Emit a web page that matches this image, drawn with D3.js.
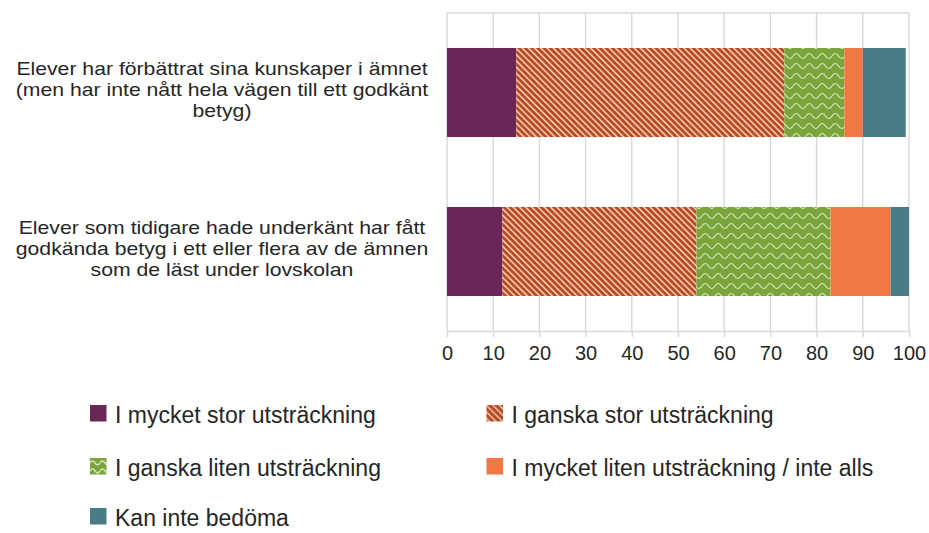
<!DOCTYPE html>
<html><head><meta charset="utf-8">
<script src="https://cdn.jsdelivr.net/npm/d3@7"></script>
<style>body{margin:0;background:#fff}svg{display:block}text{font-family:"Liberation Sans",Arial,sans-serif;fill:#262626}</style>
</head><body>
<script>
const categories = [
  ["Elever har förbättrat sina kunskaper i ämnet","(men har inte nått hela vägen till ett godkänt","betyg)"],
  ["Elever som tidigare hade underkänt har fått","godkända betyg i ett eller flera av de ämnen","som de läst under lovskolan"]
];
const seriesNames = ["I mycket stor utsträckning","I ganska stor utsträckning","I ganska liten utsträckning","I mycket liten utsträckning / inte alls","Kan inte bedöma"];
const mycketStor = [15, 12];
const ganskaStor = [58, 42];
const ganskaLiten = [13, 29];
const mycketLiten = [4, 13];
const kanInte = [9.3, 4];
const xTicks = [0,10,20,30,40,50,60,70,80,90,100];
const colors = ["#6A2657","#B84A1F","#7BA43A","#EF7846","#4A7C88"];

const W=929,H=533;
const svg=d3.select("body").append("svg").attr("width",W).attr("height",H);
const defs=svg.append("defs");
function stripe(id,s,w){
  const p=defs.append("pattern").attr("id",id).attr("patternUnits","userSpaceOnUse")
    .attr("width",s).attr("height",s).attr("patternTransform","rotate(-45)");
  p.append("rect").attr("width",s).attr("height",s).attr("fill",colors[1]);
  p.append("rect").attr("width",w).attr("height",s).attr("fill","#F3CDB8");
}
stripe("pat1",4.4,1.6);
stripe("pat1L",4.6,1.4);
function wave(id,w,h,sw){
  const p=defs.append("pattern").attr("id",id).attr("patternUnits","userSpaceOnUse").attr("width",w).attr("height",h);
  p.append("rect").attr("width",w).attr("height",h).attr("fill",colors[2]);
  p.append("path").attr("d",`M0,${h*0.6} Q${w/4},${h*0.1} ${w/2},${h*0.6} T${w},${h*0.6}`).attr("fill","none").attr("stroke","#DDEBCB").attr("stroke-width",sw);
}
wave("pat2",13,10,1.2);
wave("pat2L",10,8,1.3);
const fills=[colors[0],"url(#pat1)","url(#pat2)",colors[3],colors[4]];
const legendFills=[colors[0],"url(#pat1L)","url(#pat2L)",colors[3],colors[4]];

const x=d3.scaleLinear().domain([0,100]).range([447,909]);
const y=d3.scaleBand().domain(d3.range(categories.length)).range([13,331]).paddingInner(0.44).paddingOuter(0.22);

// gridlines + top border
const g=svg.append("g");
g.selectAll("line").data(xTicks).join("line")
  .attr("x1",d=>x(d)).attr("x2",d=>x(d)).attr("y1",13).attr("y2",331)
  .attr("stroke","#D9D9D9").attr("stroke-width",1.4);
g.append("line").attr("x1",x(0)).attr("x2",x(100)).attr("y1",13).attr("y2",13).attr("stroke","#D9D9D9").attr("stroke-width",1.4);

// stacked bars
const series=[mycketStor,ganskaStor,ganskaLiten,mycketLiten,kanInte];
const rows=categories.map((c,i)=>{const o={i};series.forEach((s,j)=>o[j]=s[i]);return o;});
const stack=d3.stack().keys(d3.range(series.length))(rows);
svg.selectAll("g.s").data(stack).join("g").attr("class","s").attr("fill",(d,j)=>fills[j])
  .selectAll("rect").data(d=>d).join("rect")
  .attr("x",d=>x(d[0])).attr("width",d=>x(d[1])-x(d[0]))
  .attr("y",d=>y(d.data.i)).attr("height",y.bandwidth());

// x axis
const ax=svg.append("g").attr("transform","translate(0,331)")
  .call(d3.axisBottom(x).tickValues(xTicks).tickSize(6).tickPadding(9));
ax.select(".domain").attr("stroke","#D9D9D9").attr("stroke-width",1.4);
ax.selectAll(".tick line").attr("stroke","#D9D9D9").attr("stroke-width",1.4);
ax.selectAll(".tick text").attr("font-size",20).attr("fill","#262626").style("font-family","Liberation Sans, Arial, sans-serif");

// category labels
categories.forEach((lines,i)=>{
  const cy=y(i)+y.bandwidth()/2;
  const t=svg.append("text").attr("text-anchor","middle").attr("font-size",18.6);
  lines.forEach((l,k)=>{
    t.append("tspan").attr("x",222).attr("y",cy+3+(k-1)*21).text(l);
  });
  t.selectAll("tspan").each(function(){
    const w=this.getComputedTextLength();
    d3.select(this).attr("textLength",w*1.14).attr("lengthAdjust","spacingAndGlyphs");
  });
});

// legend
const lg=svg.append("g");
const items=lg.selectAll("g").data(seriesNames).join("g")
  .attr("transform",(d,i)=>`translate(${i%2===0?90:486.5},${[413,466,516][Math.floor(i/2)]})`);
items.append("rect").attr("x",0).attr("y",-8).attr("width",16.5).attr("height",16.5).attr("fill",(d,i)=>legendFills[i]);
items.append("text").attr("x",25).attr("y",9.5).attr("font-size",23).text(d=>d);
</script>
</body></html>
